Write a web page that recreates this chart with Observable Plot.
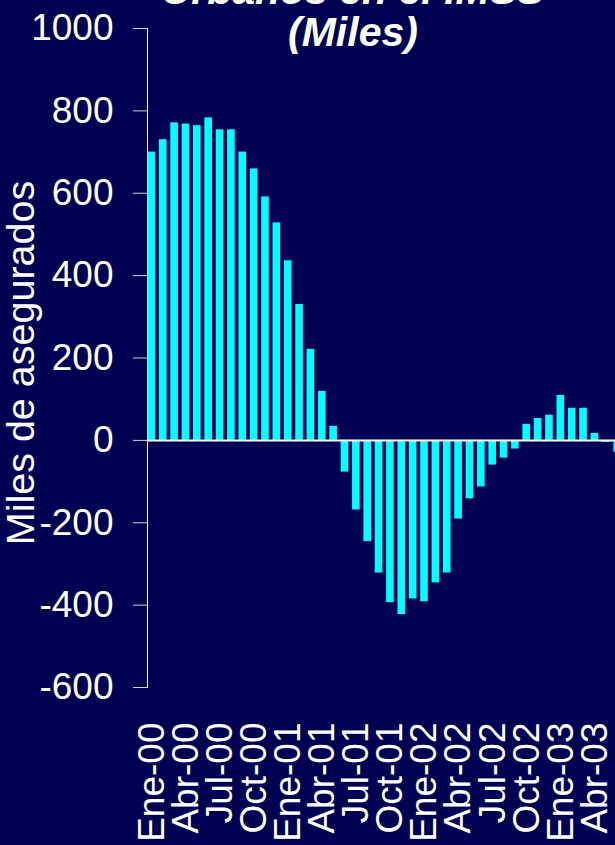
<!DOCTYPE html>
<html>
<head>
<meta charset="utf-8">
<script src="https://cdn.jsdelivr.net/npm/d3@7"></script>
<script src="https://cdn.jsdelivr.net/npm/@observablehq/plot@0.6"></script>
<style>
  html, body { margin: 0; padding: 0; background: #000052; width: 615px; height: 845px; overflow: hidden; }
  #wrap { position: relative; width: 615px; height: 845px; }
  #title { position: absolute; top: -31px; left: 96px; width: 514px; text-align: center;
           font: italic bold 41px/42px "Liberation Sans", Arial, sans-serif; color: white; z-index: 2; }
  #chart { position: absolute; top: 0; left: 0; }
  #chart svg g[aria-label="y-axis tick"], #chart svg g[aria-label="y-axis line"] { stroke: #cfcfdc; }
</style>
</head>
<body>
<div id="wrap">
  <div id="title">Urbanos en el IMSS<br>(Miles)</div>
  <div id="chart"></div>
</div>
<script>
const months = [
  "Ene-00","Feb-00","Mar-00","Abr-00","May-00","Jun-00","Jul-00","Ago-00","Sep-00","Oct-00","Nov-00","Dic-00",
  "Ene-01","Feb-01","Mar-01","Abr-01","May-01","Jun-01","Jul-01","Ago-01","Sep-01","Oct-01","Nov-01","Dic-01",
  "Ene-02","Feb-02","Mar-02","Abr-02","May-02","Jun-02","Jul-02","Ago-02","Sep-02","Oct-02","Nov-02","Dic-02",
  "Ene-03","Feb-03","Mar-03","Abr-03","May-03","Jun-03"
];
const values = [
  700, 730, 771, 768, 764, 783, 754, 754, 700, 659, 591, 528,
  436, 330, 221, 119, 34, -77, -169, -246, -322, -394, -423, -385,
  -392, -346, -322, -191, -142, -113, -60, -43, -21, 39, 53, 61,
  109, 78, 78, 17, -5, -29
];
const tickLabels = ["Ene-00","Abr-00","Jul-00","Oct-00","Ene-01","Abr-01","Jul-01","Oct-01","Ene-02","Abr-02","Jul-02","Oct-02","Ene-03","Abr-03"];
const yTicks = [-600, -400, -200, 0, 200, 400, 600, 800, 1000];
const yLabel = "Miles de asegurados";

const data = months.map((m, i) => ({month: m, value: values[i]}));

const chart = Plot.plot({
  width: 615,
  height: 845,
  marginLeft: 147,
  marginRight: -6.5,
  marginTop: 28,
  marginBottom: 158,
  style: {background: "#000052", color: "white", fontFamily: "'Liberation Sans', Arial, sans-serif", fontSize: "37px"},
  x: {
    domain: months,
    round: false,
    paddingInner: 0.33,
    paddingOuter: 0.05,
    ticks: tickLabels,
    tickSize: 0,
    tickPadding: 35,
    tickRotate: -90,
    label: null
  },
  y: {
    domain: [-600, 1000],
    ticks: yTicks,
    tickFormat: d => String(d),
    tickSize: 14,
    tickPadding: 20,
    line: true,
    label: null
  },
  marks: [
    Plot.barY(data, {x: "month", y: "value", fill: "#00ffff"}),
    Plot.ruleY([0], {stroke: "white", strokeWidth: 2}),
    Plot.text([yLabel], {text: d => d, frameAnchor: "left", textAnchor: "middle", lineAnchor: "middle", dx: -126, dy: 5, rotate: -90, fill: "white", fontSize: 39.5})
  ]
});
document.getElementById("chart").appendChild(chart);
</script>
</body>
</html>
